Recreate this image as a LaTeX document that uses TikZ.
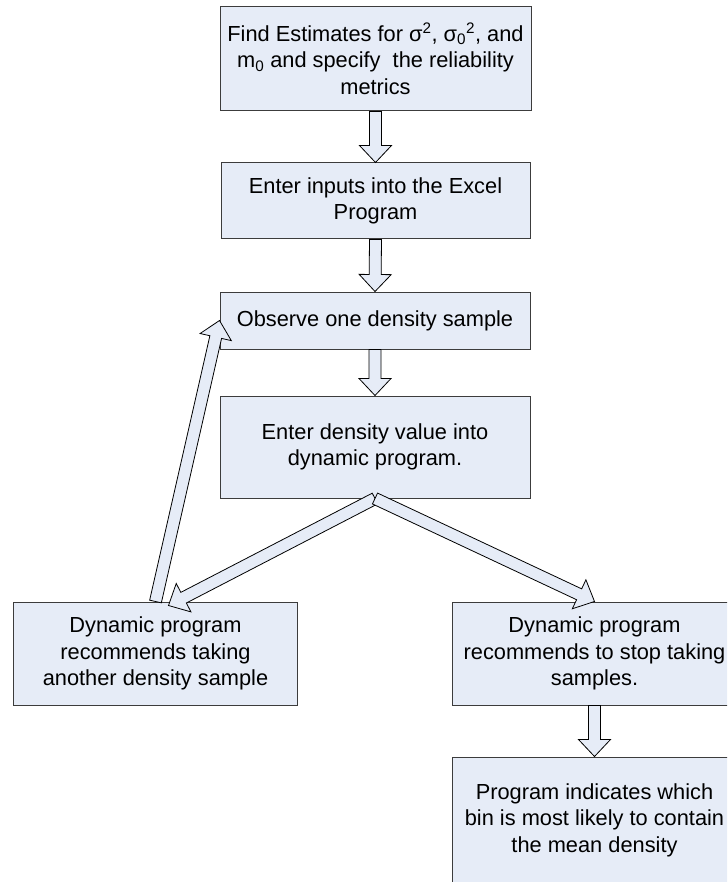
\documentclass[tikz,border=0pt]{standalone}
\usepackage{fontspec}
\setmainfont{Liberation Sans}
\usetikzlibrary{calc}
\definecolor{boxfill}{RGB}{230,236,247}
\definecolor{boxline}{RGB}{60,60,60}
\tikzset{
  flowbox/.style={draw=boxline, fill=boxfill, line width=1pt, inner sep=0pt,
    align=center, font=\fontsize{21.8}{26.6}\selectfont},
  arrowshape/.style={draw=black, fill=boxfill, line width=0.8pt, line join=miter},
}
\newcommand{\blockarrow}[2]{%
  \coordinate (ba-h) at ($(#2)!17pt!(#1)$);
  \filldraw[arrowshape] ($(#1)!6pt!90:(#2)$) -- ($(ba-h)!6pt!90:(#2)$) -- ($(ba-h)!16pt!90:(#2)$) -- (#2)
    -- ($(ba-h)!16pt!-90:(#2)$) -- ($(ba-h)!6pt!-90:(#2)$) -- ($(#1)!6pt!-90:(#2)$) -- cycle;
}
\begin{document}
\begin{tikzpicture}[x=1pt,y=-1pt]
\clip (0,0) rectangle (727,882);
\fill[white] (0,0) rectangle (727,882);
\node[flowbox, minimum width=311pt, minimum height=104pt] (B1) at (375.5,59)
  {Find Estimates for σ\textsuperscript{2}, σ\textsubscript{0}\textsuperscript{2}, and\\ m\textsubscript{0} and specify\ \ the reliability\\ metrics};
\node[flowbox, minimum width=309pt, minimum height=76pt] (B2) at (375.5,201)
  {Enter inputs into the Excel\\ Program};
\node[flowbox, minimum width=310pt, minimum height=57pt] (B3) at (375,320.5)
  {Observe one density sample};
\node[flowbox, minimum width=310pt, minimum height=102pt] (B4) at (375,447)
  {Enter density value into\\ dynamic program.};
\node[flowbox, minimum width=284pt, minimum height=103pt] (B5) at (155.5,653.5)
  {Dynamic program\\ recommends taking\\ another density sample};
\node[flowbox, minimum width=284pt, minimum height=103pt] (B6) at (594.5,653.5)
  {Dynamic program\\ recommends to stop taking\\ samples.};
\node[flowbox, minimum width=284pt, minimum height=126pt] (B7) at (594.5,820)
  {Program indicates which\\ bin is most likely to contain\\ the mean density};
\coordinate (t5) at ($(B5.north)+(13,4)$);
\blockarrow{B1.south}{B2.north}
\blockarrow{B2.south}{B3.north}
\blockarrow{B3.south}{B4.north}
\blockarrow{B4.south}{t5}
\blockarrow{B4.south}{B6.north}
\blockarrow{B5.north}{B3.west}
\blockarrow{B6.south}{B7.north}
\end{tikzpicture}
\end{document}
